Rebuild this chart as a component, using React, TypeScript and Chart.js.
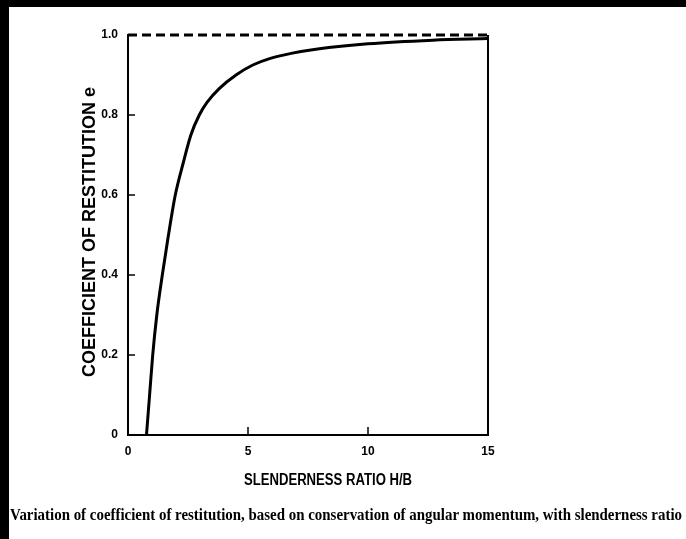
import React, { useEffect, useRef } from "react";
import { Chart, registerables } from "chart.js";

Chart.register(...registerables);

// Data
const slenderness = [0.77, 0.9, 1.03, 1.2, 1.43, 1.66, 1.97, 2.3, 2.62, 2.97, 3.3, 3.8, 4.5, 5.2, 5.9, 6.8, 7.9, 10, 12.7, 15];
const restitution = [0, 0.1, 0.2, 0.3, 0.4, 0.49, 0.6, 0.68, 0.75, 0.8, 0.832, 0.866, 0.9, 0.925, 0.941, 0.954, 0.965, 0.978, 0.987, 0.991];
const limitX = [0, 15];
const limitY = [1, 1];
const xTickValues = [0, 5, 10, 15];
const xTickLabels = ["0", "5", "10", "15"];
const yTickValues = [0, 0.2, 0.4, 0.6, 0.8, 1.0];
const yTickLabels = ["0", "0.2", "0.4", "0.6", "0.8", "1.0"];
const innerXTicks = [5, 10];
const innerYTicks = [0.2, 0.4, 0.6, 0.8];

const Y_TITLE = "COEFFICIENT OF RESTITUTION e";
const X_TITLE = "SLENDERNESS RATIO H/B";
const CAPTION =
  "Variation of coefficient of restitution, based on conservation of angular momentum, with slenderness ratio";

const SANS = '"Liberation Sans", Arial, sans-serif';

const framePlugin = {
  id: "frame",
  afterDatasetsDraw(chart: any) {
    const { ctx, chartArea, scales } = chart;
    const x = scales.x;
    const y = scales.y;
    ctx.save();
    ctx.strokeStyle = "#000";
    ctx.lineWidth = 2;
    // right border
    ctx.beginPath();
    ctx.moveTo(chartArea.right, y.getPixelForValue(1));
    ctx.lineTo(chartArea.right, chartArea.bottom);
    ctx.stroke();
    // inner ticks
    ctx.lineWidth = 1.5;
    innerYTicks.forEach((v) => {
      const py = y.getPixelForValue(v);
      ctx.beginPath();
      ctx.moveTo(chartArea.left, py);
      ctx.lineTo(chartArea.left + 7, py);
      ctx.stroke();
    });
    innerXTicks.forEach((v) => {
      const px = x.getPixelForValue(v);
      ctx.beginPath();
      ctx.moveTo(px, chartArea.bottom);
      ctx.lineTo(px, chartArea.bottom - 8);
      ctx.stroke();
    });
    // axis titles
    ctx.fillStyle = "#000";
    ctx.textAlign = "center";
    ctx.textBaseline = "middle";
    ctx.save();
    ctx.translate((chartArea.left + chartArea.right) / 2 + 20, chartArea.bottom + 46);
    ctx.scale(0.82, 1);
    ctx.font = `bold 16px ${SANS}`;
    ctx.fillText(X_TITLE, 0, 0);
    ctx.restore();
    ctx.save();
    ctx.translate(y.left + 6, (chartArea.top + chartArea.bottom) / 2 - 3);
    ctx.rotate(-Math.PI / 2);
    ctx.font = `bold 18px ${SANS}`;
    ctx.fillText(Y_TITLE, 0, 0);
    ctx.restore();
    ctx.restore();
  },
};

export default function App() {
  const ref = useRef<HTMLCanvasElement | null>(null);
  useEffect(() => {
    if (!ref.current) return;
    const chart = new Chart(ref.current, {
      type: "scatter",
      data: {
        datasets: [
          {
            data: limitX.map((v, i) => ({ x: v, y: limitY[i] })),
            showLine: true,
            borderColor: "#000",
            borderWidth: 3,
            borderDash: [9, 5],
            pointRadius: 0,
          },
          {
            data: slenderness.map((v, i) => ({ x: v, y: restitution[i] })),
            showLine: true,
            borderColor: "#000",
            borderWidth: 3,
            pointRadius: 0,
            cubicInterpolationMode: "monotone",
          },
        ],
      },
      options: {
        animation: false,
        responsive: false,
        devicePixelRatio: 1,
        clip: false,
        layout: { padding: { left: 84, top: 35, right: 198, bottom: 50 } },
        plugins: { legend: { display: false }, tooltip: { enabled: false } },
        scales: {
          x: {
            type: "linear",
            min: 0,
            max: 15,
            afterBuildTicks: (s: any) => {
              s.ticks = xTickValues.map((v) => ({ value: v }));
            },
            afterFit: (s: any) => {
              s.height = 54;
            },
            ticks: {
              color: "#000",
              font: { family: SANS, weight: "bold", size: 12 },
              padding: 9,
              callback: (v: any) => xTickLabels[xTickValues.indexOf(Number(v))] ?? "",
            },
            grid: { drawOnChartArea: false, drawTicks: false },
            border: { display: true, color: "#000", width: 2 },
          },
          y: {
            type: "linear",
            min: 0,
            max: 1,
            afterBuildTicks: (s: any) => {
              s.ticks = yTickValues.map((v) => ({ value: v }));
            },
            afterFit: (s: any) => {
              s.width = 44;
            },
            ticks: {
              color: "#000",
              font: { family: SANS, weight: "bold", size: 12 },
              padding: 10,
              callback: (v: any) => {
                const i = yTickValues.findIndex((t) => Math.abs(t - Number(v)) < 1e-6);
                return i >= 0 ? yTickLabels[i] : "";
              },
            },
            grid: { drawOnChartArea: false, drawTicks: false },
            border: { display: true, color: "#000", width: 2 },
          },
        },
      },
      plugins: [framePlugin],
    } as any);
    return () => chart.destroy();
  }, []);

  return (
    <div style={{ position: "fixed", left: 0, top: 0, width: 686, height: 539, background: "#fff", overflow: "hidden" }}>
      <canvas ref={ref} width={686} height={539} style={{ position: "absolute", left: 0, top: 0 }} />
      <div style={{ position: "absolute", left: 0, top: 0, width: 686, height: 7, background: "#000" }} />
      <div style={{ position: "absolute", left: 0, top: 0, width: 9, height: 539, background: "#000" }} />
      <svg width={686} height={539} style={{ position: "absolute", left: 0, top: 0, pointerEvents: "none" }}>
        <text
          x={10}
          y={520}
          textLength={672}
          lengthAdjust="spacingAndGlyphs"
          fontFamily="Liberation Serif"
          fontWeight="bold"
          fontSize={16}
          fill="#000"
        >
          {CAPTION}
        </text>
      </svg>
    </div>
  );
}
